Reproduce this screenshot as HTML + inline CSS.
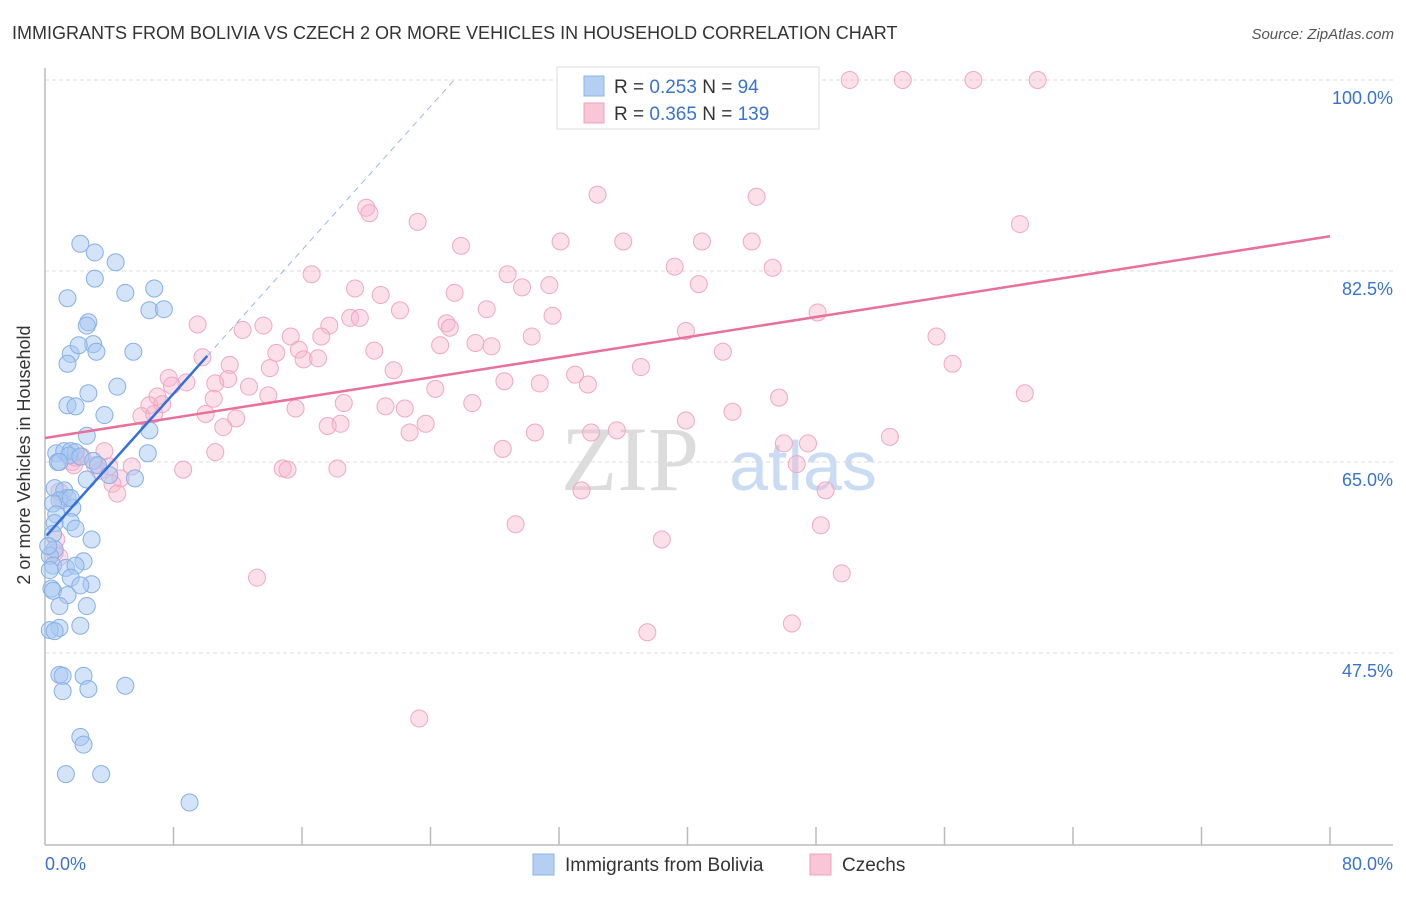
<!DOCTYPE html>
<html><head><meta charset="utf-8"><style>
body{margin:0;background:#fff;font-family:"Liberation Sans",sans-serif;}
svg text{font-family:"Liberation Sans",sans-serif;}
</style></head><body>
<svg id="chart" width="1406" height="892" viewBox="0 0 1406 892">
<text x="12" y="39" font-size="18" fill="#333">IMMIGRANTS FROM BOLIVIA VS CZECH 2 OR MORE VEHICLES IN HOUSEHOLD CORRELATION CHART</text>
<text x="1394" y="39" font-size="15" fill="#555" text-anchor="end" font-style="italic">Source: ZipAtlas.com</text>
<g>
<text x="630" y="490" font-size="92" fill="#dcdcdc" text-anchor="middle" font-family="Liberation Serif" style="font-family:'Liberation Serif',serif">ZIP</text>
<text x="803" y="490" font-size="70" fill="#c9dcf3" text-anchor="middle">atlas</text>
</g>
<g id="grid"></g>
<g id="axes"></g>
<g id="pts"></g>
<g id="trend"></g>
<text x="30" y="455" font-size="18" fill="#333" text-anchor="middle" transform="rotate(-90 30 455)">2 or more Vehicles in Household</text>
<g>
<rect x="557" y="67" width="262" height="62" fill="#fff" stroke="#ddd"/>
<rect x="584" y="76" width="20" height="20" fill="#b5cff3" stroke="#8ab4e8"/>
<rect x="584" y="103" width="20" height="20" fill="#f8c6d6" stroke="#f0a0bc"/>
<text x="614" y="93" font-size="19" fill="#333">R = <tspan fill="#3a72d0">0.253</tspan>   N =  <tspan fill="#3a72d0"> 94</tspan></text>
<text x="614" y="120" font-size="19" fill="#333">R = <tspan fill="#3a72d0">0.365</tspan>   N = <tspan fill="#3a72d0">139</tspan></text>
</g>
<g>
<rect x="533" y="854" width="21" height="21" fill="#b5cff3" stroke="#8ab4e8"/>
<text x="565" y="871" font-size="19" fill="#333">Immigrants from Bolivia</text>
<rect x="810" y="854" width="21" height="21" fill="#f8c6d6" stroke="#f0a0bc"/>
<text x="842" y="871" font-size="19" fill="#333">Czechs</text>
</g>
</svg>
<script>
const yTicks=[100,82.5,65,47.5];
const yTickLabels=["100.0%","82.5%","65.0%","47.5%"];
const xTickLabels=["0.0%","80.0%"];
const boliviaX=[2.2,3.1,4.4,1.4,5.0,6.8,3.1,6.5,7.4,2.7,2.6,1.6,3.0,2.1,3.2,5.5,1.4,4.5,2.7,1.4,1.9,3.7,6.5,2.6,0.7,0.8,1.2,1.6,1.9,1.5,2.2,3.0,6.4,3.3,4.0,5.6,2.6,0.6,1.2,1.4,0.9,0.5,1.7,0.7,0.6,1.6,1.9,0.5,2.9,0.6,0.3,2.4,0.5,1.3,1.9,1.6,2.9,2.2,0.4,0.5,1.4,0.9,2.6,0.9,2.2,0.3,0.6,0.9,1.1,2.4,1.1,2.7,5.0,2.2,2.4,1.3,3.5,9.0,1.6,0.2,0.3,0.9];
const boliviaY=[85.0,84.2,83.3,80.0,80.5,80.9,81.8,78.9,79.0,77.8,77.5,74.9,75.8,75.7,75.1,75.1,74.0,71.9,71.3,70.2,70.1,69.3,67.9,67.4,65.8,65.0,66.0,66.0,65.9,65.6,65.5,65.1,65.8,64.7,63.8,63.5,63.4,62.6,62.4,61.7,61.5,61.2,60.8,60.2,59.4,59.5,58.9,58.4,57.9,57.0,56.4,55.9,55.5,55.3,55.5,54.4,53.8,53.7,53.4,53.2,52.8,51.8,51.8,49.8,50.0,49.6,49.5,45.5,45.4,45.4,44.0,44.2,44.5,39.8,39.1,36.4,36.4,33.8,61.7,57.3,55.1,65.0];
const czechX=[41.5,50.1,53.4,57.8,61.8,34.4,44.3,20.0,20.2,23.2,60.7,25.9,32.1,36.0,40.9,44.0,39.2,45.3,16.6,28.8,40.7,19.3,25.5,29.7,31.4,20.9,27.5,22.1,31.6,19.0,19.6,48.1,25.0,9.5,12.3,13.6,15.3,17.7,25.2,39.9,17.2,55.5,24.6,26.8,27.8,30.3,20.5,15.8,14.4,42.2,9.8,16.1,17.0,11.5,14.0,21.7,56.5,37.1,7.7,11.4,8.8,33.0,28.6,7.9,33.8,30.8,12.7,10.6,24.3,13.9,10.5,18.6,21.2,7.0,6.5,7.3,26.6,45.7,61.0,22.4,42.8,6.0,6.8,15.6,10.0,11.9,23.7,11.1,22.7,17.6,18.4,35.6,34.0,39.9,30.5,52.6,3.7,10.6,28.5,46.0,47.5,2.3,1.7,1.8,3.1,4.0,5.4,8.6,14.8,15.1,18.2,46.8,3.4,4.7,4.2,4.5,33.4,48.6,0.9,29.3,48.3,38.4,0.6,49.6,13.2,46.5,37.5,23.3,1.9,0.9,0.7,1.1];
const czechY=[100,100,100,100,100,89.5,89.3,88.3,87.8,87.0,86.8,84.8,85.2,85.2,85.2,85.2,82.9,82.8,82.2,82.2,81.3,80.9,80.5,81.0,81.2,80.3,79.0,78.9,78.4,78.2,78.2,78.7,77.7,77.6,77.1,77.5,76.5,77.5,77.3,77.0,76.5,76.5,75.7,75.9,75.6,76.5,75.2,75.3,75.0,75.1,74.6,74.4,74.5,73.9,73.6,73.4,74.0,73.7,72.7,72.6,72.3,73.0,72.4,72.0,72.1,72.2,71.9,72.2,71.7,71.1,70.8,70.4,70.1,71.0,70.2,70.3,70.4,70.9,71.3,69.9,69.6,69.2,69.4,69.9,69.4,69.0,68.5,68.2,67.7,68.3,68.5,67.9,67.7,68.8,67.7,67.3,66.0,65.9,66.2,66.7,66.7,65.5,65.0,64.7,64.7,64.6,64.6,64.3,64.4,64.3,64.4,64.8,64.2,63.5,63.0,62.1,62.4,62.4,62.3,59.3,59.2,57.9,56.7,54.8,54.4,50.2,49.4,41.5,65.4,56.3,57.9,61.5];
const boliviaTrend=[58.1,1.645];
const czechTrend=[67.2,0.231];

const NS="http://www.w3.org/2000/svg";
const X0=45,X1=1330,Y100=80,PXPER=10.914;
function xs(v){return X0+(X1-X0)*v/80;}
function ys(v){return Y100+(100-v)*PXPER;}
function mk(tag,attrs,parent){const e=document.createElementNS(NS,tag);for(const k in attrs)e.setAttribute(k,attrs[k]);parent.appendChild(e);return e;}
const grid=document.getElementById('grid'),axes=document.getElementById('axes'),pts=document.getElementById('pts'),trend=document.getElementById('trend');
yTicks.forEach((t,i)=>{
  const l=mk('line',{x1:45,x2:1393,y1:ys(t),y2:ys(t),stroke:'#ddd','stroke-dasharray':'4,3'},grid);
  
  
  const tx=mk('text',{x:1393,y:ys(t)+24,'font-size':18,fill:'#3a72d0','text-anchor':'end'},grid);
  tx.textContent=yTickLabels[i];
  
  
});
let a=mk('line',{x1:45,x2:45,y1:68,y2:845,stroke:'#bbb','stroke-width':1.5},axes);


a=mk('line',{x1:45,x2:1393,y1:845,y2:845,stroke:'#bbb','stroke-width':1.5},axes);


for(let i=1;i<=10;i++){
  const t=mk('line',{x1:xs(i*8),x2:xs(i*8),y1:827,y2:845,stroke:'#bbb','stroke-width':1.5},axes);
  
  
}
let xl=mk('text',{x:45,y:870,'font-size':18,fill:'#3a72d0'},axes);
xl.textContent=xTickLabels[0];


xl=mk('text',{x:1393,y:870,'font-size':18,fill:'#3a72d0','text-anchor':'end'},axes);
xl.textContent=xTickLabels[1];


czechX.forEach((x,i)=>{
  const c=mk('circle',{cx:xs(x),cy:ys(czechY[i]),r:8.5,fill:'rgba(246,182,204,0.42)',stroke:'#f0a8c2','stroke-width':1},pts);
  
  
});
boliviaX.forEach((x,i)=>{
  const c=mk('circle',{cx:xs(x),cy:ys(boliviaY[i]),r:8.5,fill:'rgba(168,200,242,0.5)',stroke:'#86b0e6','stroke-width':1},pts);
  
  
});
let tl=mk('line',{x1:xs(0),y1:ys(czechTrend[0]),x2:xs(80),y2:ys(czechTrend[0]+czechTrend[1]*80),stroke:'#e8709a','stroke-width':2.5},trend);


const bEnd=(100-boliviaTrend[0])/boliviaTrend[1];
tl=mk('line',{x1:xs(10.1),y1:ys(boliviaTrend[0]+boliviaTrend[1]*10.1),x2:xs(bEnd),y2:ys(100),stroke:'#9ab8e8','stroke-width':1,'stroke-dasharray':'6,5'},trend);


tl=mk('line',{x1:xs(0.1),y1:ys(boliviaTrend[0]+boliviaTrend[1]*0.1),x2:xs(10.1),y2:ys(boliviaTrend[0]+boliviaTrend[1]*10.1),stroke:'#3470d8','stroke-width':2.5},trend);


</script>
</body></html>
